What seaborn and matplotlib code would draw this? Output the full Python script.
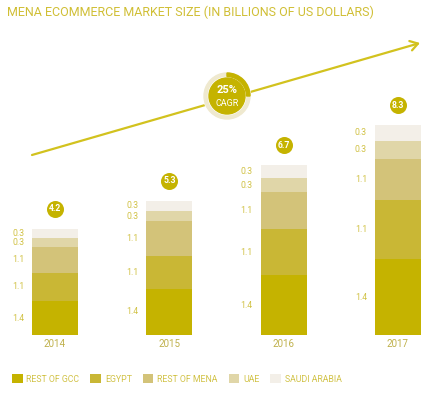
import matplotlib
matplotlib.use("Agg")
import matplotlib.pyplot as plt
from matplotlib.patches import Patch, Wedge, Circle
import numpy as np
import pandas as pd
import seaborn as sns

# ---------------- data ----------------
years = ["2014", "2015", "2016", "2017"]
series = ["REST OF GCC", "EGYPT", "REST OF MENA", "UAE", "SAUDI ARABIA"]
rest_of_gcc = [1.33, 1.83, 2.37, 3.00]
egypt = [1.14, 1.31, 1.82, 2.34]
rest_of_mena = [1.02, 1.36, 1.45, 1.62]
uae = [0.36, 0.40, 0.55, 0.71]
saudi_arabia = [0.35, 0.40, 0.51, 0.63]
segment_labels = ["1.4", "1.1", "1.1", "0.3", "0.3"]
total_labels = ["4.2", "5.3", "6.7", "8.3"]
cagr_label = "25%"
cagr_share = 0.25

colors = ["#c5b300", "#c9b735", "#d3c379", "#e0d6a8", "#f3efe8"]
GOLD = "#c5b300"
TEXT_GOLD = "#d1c246"
YEAR_COL = "#bfb04a"
LINE_COL = "#d2c21e"

W, H = 432, 393
sns.set_style("white")
plt.rcParams["font.family"] = ["Roboto", "DejaVu Sans"]

fig = plt.figure(figsize=(W / 100, H / 100), dpi=100)
ax = fig.add_axes([0, 0, 1, 1])

values = [rest_of_gcc, egypt, rest_of_mena, uae, saudi_arabia]
df = pd.DataFrame({"year": years})
for name, v in zip(series, values):
    df[name] = v
cum = df[series].cumsum(axis=1)

# stacked bars: draw cumulative totals from top series down
for k in range(len(series) - 1, -1, -1):
    sns.barplot(x=df["year"], y=cum[series[k]], color=colors[k], saturation=1,
                width=0.4, errorbar=None, order=years, ax=ax, linewidth=0)

# scale: 114.33 px per category, 25.3 px per unit; baseline at y=335 px from top
PXX, PXY = 114.33, 25.3
xmin = -55 / PXX
ymin = -(H - 335) / PXY
ax.set_xlim(xmin, xmin + W / PXX)
ax.set_ylim(ymin, ymin + H / PXY)
ax.axis("off")

for i, yr in enumerate(years):
    bottom = 0.0
    for k in range(len(series)):
        h = values[k][i]
        ax.text(i - 0.2 - 8 / PXX, bottom + h / 2, segment_labels[k], ha="right",
                va="center", fontsize=6.3, color=TEXT_GOLD)
        bottom += h
    ax.text(i, -9 / PXY, yr, ha="center", va="center", fontsize=7, color=YEAR_COL)
    ax.scatter([i], [bottom + 20 / PXY], s=150, color=GOLD, linewidths=0, zorder=5)
    ax.text(i, bottom + 20 / PXY, total_labels[i], ha="center", va="center",
            fontsize=6.2, fontweight="bold", color="white", zorder=6)

# overlay in pixel coordinates
ax2 = fig.add_axes([0, 0, 1, 1])
ax2.set_xlim(0, W)
ax2.set_ylim(0, H)
ax2.axis("off")
ax2.patch.set_alpha(0)


def py(y):
    return H - y


ax2.annotate("", xy=(420, py(43)), xytext=(32, py(155)),
             arrowprops=dict(arrowstyle="->,head_length=0.55,head_width=0.35",
                             color=LINE_COL, lw=1.6, shrinkA=0, shrinkB=0))
cx, cy = 227, py(96)
ax2.add_patch(Circle((cx, cy), 23.5, color="white", zorder=3))
ax2.add_patch(Wedge((cx, cy), 23, 0, 360, width=3, color="#efe9cf", zorder=4))
ax2.add_patch(Wedge((cx, cy), 23, 90 - 360 * cagr_share, 90, width=3.5,
                    color=GOLD, zorder=5))
ax2.add_patch(Circle((cx, cy), 18, color=GOLD, zorder=5))
ax2.text(cx, py(90), cagr_label, ha="center", va="center", fontsize=8,
         fontweight="bold", color="white", zorder=6)
ax2.text(cx, py(103), "CAGR", ha="center", va="center", fontsize=6.5,
         color="white", zorder=6)

fig.text(7 / W, 1 - 12 / H, "MENA ECOMMERCE MARKET SIZE (IN BILLIONS OF US DOLLARS)",
         ha="left", va="center", fontsize=9, color="#d0bf35")

handles = [Patch(facecolor=c, edgecolor="none", label=s) for s, c in zip(series, colors)]
fig.legend(handles=handles, loc="center left", bbox_to_anchor=(12 / W, 1 - 379 / H),
           ncol=5, frameon=False, fontsize=6.3, handlelength=1.2, handleheight=1.2,
           handletextpad=0.45, columnspacing=1.25, borderpad=0, borderaxespad=0,
           labelcolor=TEXT_GOLD)

fig.savefig("out.png", dpi=100)
